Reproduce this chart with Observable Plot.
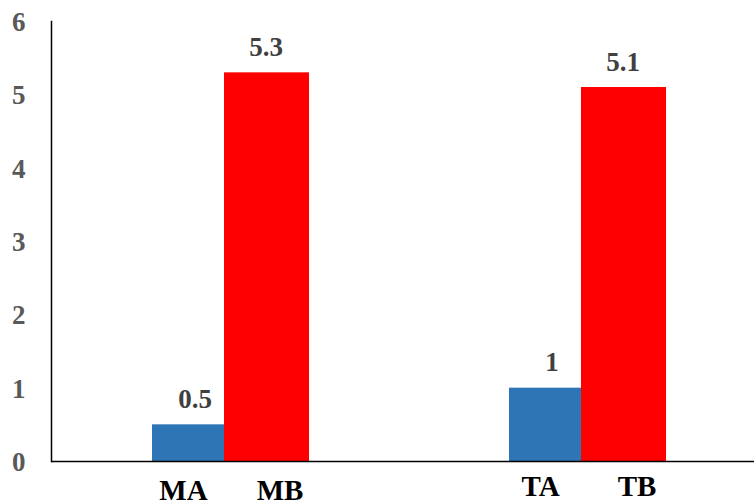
<!DOCTYPE html>
<html><head><meta charset="utf-8">
<script src="https://cdn.jsdelivr.net/npm/d3@7"></script>
<script src="https://cdn.jsdelivr.net/npm/@observablehq/plot@0.6"></script>
<style>html,body{margin:0;padding:0;overflow:hidden;background:#fff}</style>
</head><body><div id="chart"></div>
<script>
const groups = ["M", "T"];
const seriesA = [0.5, 1];      // MA, TA
const seriesB = [5.3, 5.1];    // MB, TB
const labelsA = ["MA", "TA"];
const labelsB = ["MB", "TB"];
const valueTextA = ["0.5", "1"];
const valueTextB = ["5.3", "5.1"];
const yTicks = [0, 1, 2, 3, 4, 5, 6];
const yTickLabels = ["0", "1", "2", "3", "4", "5", "6"];

const rowsA = groups.map((g, i) => ({group: g, value: seriesA[i], label: labelsA[i], vt: valueTextA[i]}));
const rowsB = groups.map((g, i) => ({group: g, value: seriesB[i], label: labelsB[i], vt: valueTextB[i]}));

const font = "Liberation Serif, Times New Roman, serif";
const catLabels = [];
for (const [rows, dx] of [[rowsA, -47.5], [rowsB, 49]]) {
  for (const [g, dy] of [["M", 38], ["T", 34]]) {
    catLabels.push(Plot.text(rows, {
      filter: d => d.group === g, x: "group", frameAnchor: "bottom", text: "label",
      dx, dy, lineAnchor: "bottom", fontSize: 29, fontWeight: "bold", fill: "#000"
    }));
  }
}

const chart = Plot.plot({
  width: 754, height: 500,
  marginLeft: 51, marginRight: 0, marginTop: 21, marginBottom: 39,
  style: {fontFamily: font, background: "#fff", overflow: "visible"},
  x: {type: "band", domain: groups, range: [51, 766], padding: 0, axis: null},
  y: {domain: [0, 6], axis: null},
  marks: [
    Plot.barY(rowsA, {x: "group", y: "value", fill: "#2E75B6", insetLeft: 100, insetRight: 185}),
    Plot.barY(rowsB, {x: "group", y: "value", fill: "#FF0000", insetLeft: 172, insetRight: 100}),
    Plot.axisY({ticks: yTicks, tickFormat: (d, i) => yTickLabels[yTicks.indexOf(d)], label: null,
      tickSize: 0, tickPadding: 26, fontSize: 27, fontWeight: "bold", color: "#595959", dy: 1}),
    Plot.frame({anchor: "left", stroke: "#000", strokeWidth: 1.5}),
    Plot.ruleY([0], {stroke: "#000", strokeWidth: 1.5}),
    Plot.text(rowsA, {x: "group", y: "value", text: "vt", dx: -36, dy: -17, lineAnchor: "bottom", fontSize: 27, fontWeight: "bold", fill: "#404040"}),
    Plot.text(rowsB, {x: "group", y: "value", text: "vt", dx: 35, dy: -17, lineAnchor: "bottom", fontSize: 27, fontWeight: "bold", fill: "#404040"}),
    ...catLabels
  ]
});
document.getElementById("chart").appendChild(chart);
</script>
</body></html>
